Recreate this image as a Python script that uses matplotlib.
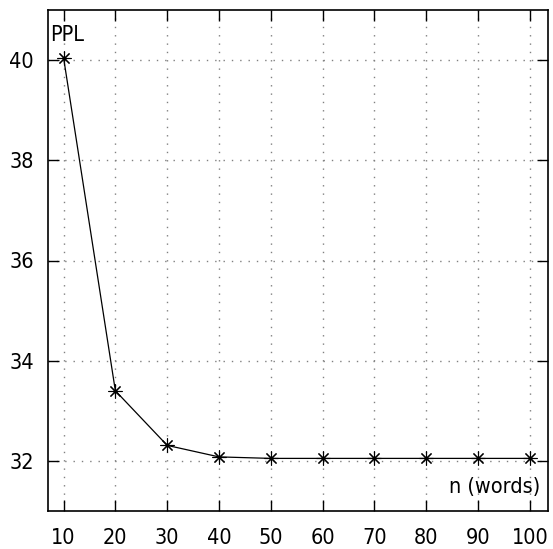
import matplotlib
matplotlib.use("Agg")
import matplotlib.pyplot as plt

n_words = [10, 20, 30, 40, 50, 60, 70, 80, 90, 100]
ppl = [40.05, 33.4, 32.31, 32.08, 32.05, 32.05, 32.05, 32.05, 32.05, 32.05]
xticks = [10, 20, 30, 40, 50, 60, 70, 80, 90, 100]
yticks = [32, 34, 36, 38, 40]

plt.rcParams['font.family'] = ['DejaVu Sans']
plt.rcParams['font.stretch'] = 'condensed'

fig = plt.figure(figsize=(5.53, 5.49), dpi=100)
ax = fig.add_axes([48/553, 1 - 511/549, 500/553, 501/549])

ax.plot(n_words, ppl, color='black', lw=0.9, marker=(8, 2, 0), markersize=10,
        markeredgewidth=0.8, zorder=3)

ax.set_xlim(7, 103.5)
ax.set_ylim(31, 41)
ax.set_xticks(xticks)
ax.set_yticks(yticks)
ax.grid(True, linestyle=(0, (1, 5)), color='#808080', lw=1.0)
ax.tick_params(direction='in', length=8, width=1.0, top=True, right=True,
               labelsize=15.5)
ax.tick_params(axis='x', pad=12)
ax.tick_params(axis='y', pad=10)
for s in ax.spines.values():
    s.set_linewidth(1.2)

ax.text(0.005, 0.95, 'PPL', transform=ax.transAxes, fontsize=15.5,
        ha='left', va='center')
ax.text(0.985, 0.0485, 'n (words)', transform=ax.transAxes, fontsize=15.5,
        ha='right', va='center')

fig.savefig('out.png', dpi=100)
